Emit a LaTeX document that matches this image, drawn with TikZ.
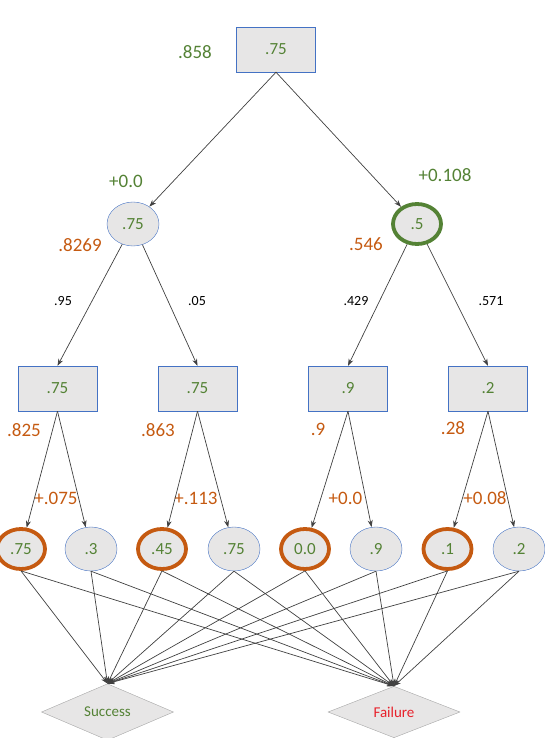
\documentclass[tikz,border=0pt]{standalone}
\usepackage{fontspec}
\setmainfont{Carlito}
\usetikzlibrary{shapes.geometric,arrows.meta}
\definecolor{valgreen}{HTML}{548235}
\definecolor{valorange}{HTML}{C55A11}
\definecolor{valred}{HTML}{E8212B}
\definecolor{edgeblue}{HTML}{4472C4}
\definecolor{boxgray}{HTML}{E7E6E6}
\begin{document}
\begin{tikzpicture}[x=1pt, y=-1pt,
  link/.style={line width=0.7pt, draw=black!75, -{Stealth[length=7pt, width=5pt]}},
  decision/.style={rectangle, draw=edgeblue, fill=boxgray, minimum width=79pt, minimum height=45pt, inner sep=0pt, text=valgreen, font=\fontsize{17}{19}\selectfont},
  chance/.style={ellipse, draw=edgeblue, fill=boxgray, minimum width=52pt, minimum height=44pt, inner sep=0pt, text=valgreen, font=\fontsize{17}{19}\selectfont},
  bestgreen/.style={draw=valgreen, line width=3.8pt, minimum width=48pt, minimum height=40pt},
  bestorange/.style={draw=valorange, line width=3.8pt, minimum width=48pt, minimum height=40pt},
  outcome/.style={diamond, draw=gray!70, fill=boxgray, minimum width=132pt, minimum height=50pt, inner sep=0pt, font=\fontsize{15}{17}\selectfont},
  gval/.style={text=valgreen, font=\fontsize{19}{21}\selectfont},
  oval/.style={text=valorange, font=\fontsize{19}{21}\selectfont},
  prob/.style={font=\fontsize{14}{16}\selectfont}]
  \useasboundingbox (0,0) rectangle (545,738);
  % root and first chance level
  \node[decision] (root) at (276, 49.5) {.75};
  \node[chance] (l) at (133, 224) {.75};
  \node[chance, bestgreen] (r) at (417, 224) {.5};
  % decisions
  \node[decision] (la) at (57.5, 388.5) {.75};
  \node[decision] (lb) at (197.5, 388.5) {.75};
  \node[decision] (ra) at (348, 388.5) {.9};
  \node[decision] (rb) at (488, 388.5) {.2};
  % leaves
  \node[chance, bestorange] (laa) at (21, 549) {.75};
  \node[chance] (lab) at (91, 549) {.3};
  \node[chance, bestorange] (lba) at (162, 549) {.45};
  \node[chance] (lbb) at (234, 549) {.75};
  \node[chance, bestorange] (raa) at (305, 549) {0.0};
  \node[chance] (rab) at (376, 549) {.9};
  \node[chance, bestorange] (rba) at (447.5, 549) {.1};
  \node[chance] (rbb) at (519, 549) {.2};
  % outcomes
  \node[outcome, text=valgreen] (succ) at (107.5, 712) {Success};
  \node[outcome, text=valred] (fail) at (394, 712) {Failure};
  % values
  \node[gval] (v0) at (195, 52) {.858};
  \node[gval] (vl) at (126, 181) {+0.0};
  \node[gval] (vr) at (445, 175) {+0.108};
  \node[oval] (wl) at (80, 245) {.8269};
  \node[oval] (wr) at (366, 244) {.546};
  \node[oval] (wla) at (24, 430) {.825};
  \node[oval] (wlb) at (158, 430) {.863};
  \node[oval] (wra) at (318, 429) {.9};
  \node[oval] (wrb) at (453, 428) {.28};
  \node[oval] (xla) at (56, 498) {+.075};
  \node[oval] (xlb) at (196, 498) {+.113};
  \node[oval] (xra) at (345.5, 498) {+0.0};
  \node[oval] (xrb) at (485, 498) {+0.08};
  % probabilities
  \node[prob] (pla) at (63, 301) {.95};
  \node[prob] (plb) at (197, 301) {.05};
  \node[prob] (pra) at (356, 301) {.429};
  \node[prob] (prb) at (491, 301) {.571};
  % connectors
  \draw[link] (root.south) -- (l);
  \draw[link] (root.south) -- (r);
  \draw[link] (l) -- (la.north);
  \draw[link] (l) -- (lb.north);
  \draw[link] (r) -- (ra.north);
  \draw[link] (r) -- (rb.north);
  \draw[link] (la.south) -- (laa);
  \draw[link] (la.south) -- (lab);
  \draw[link] (lb.south) -- (lba);
  \draw[link] (lb.south) -- (lbb);
  \draw[link] (ra.south) -- (raa);
  \draw[link] (ra.south) -- (rab);
  \draw[link] (rb.south) -- (rba);
  \draw[link] (rb.south) -- (rbb);
  \foreach \leaf in {laa, lab, lba, lbb, raa, rab, rba, rbb} {
    \draw[link] (\leaf.south) -- (succ.north);
    \draw[link] (\leaf.south) -- (fail.north);
  }
\end{tikzpicture}
\end{document}
